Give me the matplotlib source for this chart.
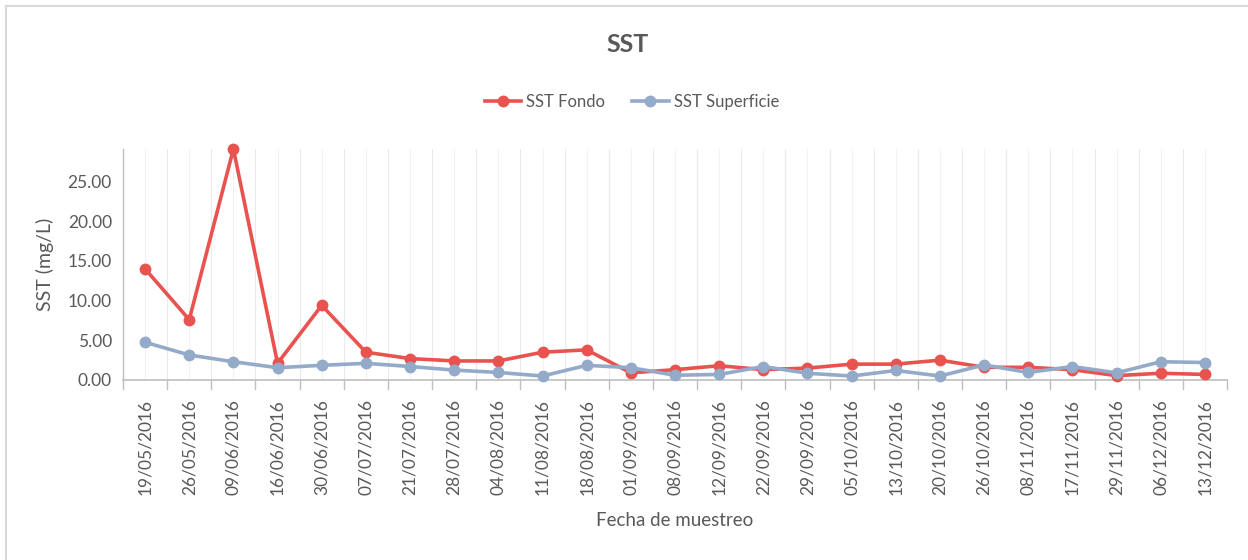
import matplotlib
matplotlib.use("Agg")
import matplotlib.pyplot as plt
from matplotlib.lines import Line2D
import numpy as np

plt.rcParams['font.family'] = ['Lato', 'DejaVu Sans']

dates = ["19/05/2016", "26/05/2016", "09/06/2016", "16/06/2016", "30/06/2016",
         "07/07/2016", "21/07/2016", "28/07/2016", "04/08/2016", "11/08/2016",
         "18/08/2016", "01/09/2016", "08/09/2016", "12/09/2016", "22/09/2016",
         "29/09/2016", "05/10/2016", "13/10/2016", "20/10/2016", "26/10/2016",
         "08/11/2016", "17/11/2016", "29/11/2016", "06/12/2016", "13/12/2016"]
sst_fondo = [14.0, 7.6, 29.1, 2.1, 9.4, 3.5, 2.7, 2.4, 2.4, 3.5,
             3.8, 0.9, 1.3, 1.8, 1.3, 1.5, 2.0, 2.0, 2.5, 1.6,
             1.6, 1.3, 0.55, 0.85, 0.7]
sst_superficie = [4.75, 3.15, 2.3, 1.55, 1.85, 2.1, 1.7, 1.25, 0.95, 0.5,
                  1.85, 1.55, 0.6, 0.7, 1.7, 0.85, 0.5, 1.2, 0.5, 1.9,
                  0.95, 1.7, 0.9, 2.3, 2.2]
yticks = [0, 5, 10, 15, 20, 25]

red = '#e8534f'
blue = '#93aac9'
txt = '#595959'

fig = plt.figure(figsize=(12.48, 5.6), dpi=100)
ax = fig.add_axes([123/1248, 1 - 380/560, (1227 - 123)/1248, (380 - 149)/560])

x = np.arange(len(dates))
ax.plot(x, sst_fondo, color=red, lw=2.6, marker='o', ms=7.5, label='SST Fondo',
        zorder=3, clip_on=False)
ax.plot(x, sst_superficie, color=blue, lw=2.6, marker='o', ms=7.5, label='SST Superficie',
        zorder=3, clip_on=False)

ax.set_xlim(-0.5, len(dates) - 0.5)
ax.set_ylim(0, 29.1)
ax.set_yticks(yticks)
ax.set_yticklabels([f"{v:.2f}" for v in yticks], fontsize=12.5, color=txt)
ax.set_xticks(x)
ax.set_xticklabels(dates, rotation=90, fontsize=12.5, color=txt)
ax.tick_params(axis='x', length=0, pad=14)
ax.tick_params(axis='y', length=0, pad=8)

# category boundaries: gridlines and tick marks
bounds = np.arange(-0.5, len(dates) + 0.5, 1)
for b in bounds:
    ax.axvline(b, color='#ebebeb', lw=0.8, zorder=0)
    ax.plot([b, b], [0, -0.04], transform=ax.get_xaxis_transform(), color='#bfbfbf',
            lw=1, clip_on=False)
for xi in x:
    ax.axvline(xi, color='#f2f2f2', lw=0.8, zorder=0)

for s in ['top', 'right']:
    ax.spines[s].set_visible(False)
ax.spines['left'].set_color('#bfbfbf')
ax.spines['bottom'].set_color('#bfbfbf')
ax.spines['left'].set_linewidth(1)
ax.spines['bottom'].set_linewidth(1.2)

ax.set_ylabel('SST (mg/L)', fontsize=14, color=txt, labelpad=10)
fig.text(675/1248, 1 - 520/560, 'Fecha de muestreo', fontsize=13.5, color=txt,
         ha='center', va='center')
fig.text(628/1248, 1 - 45/560, 'SST', fontsize=18, fontweight='bold', color=txt,
         ha='center', va='center')

leg = fig.legend(loc='center', bbox_to_anchor=(632/1248, 1 - 102/560), ncol=2,
                 frameon=False, fontsize=12, handlelength=2.2, columnspacing=1.6,
                 handletextpad=0.3)
for t in leg.get_texts():
    t.set_color(txt)

# outer frame (left and top edges)
fig.add_artist(Line2D([6/1248, 6/1248], [0, 1 - 6/560], transform=fig.transFigure,
                      color='#d9d9d9', lw=1.5))
fig.add_artist(Line2D([6/1248, 1], [1 - 6/560, 1 - 6/560], transform=fig.transFigure,
                      color='#d9d9d9', lw=1.5))

fig.savefig('out.png', dpi=100)
